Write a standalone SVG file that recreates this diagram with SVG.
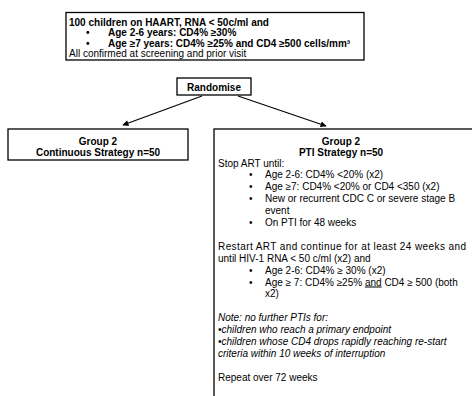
<svg xmlns="http://www.w3.org/2000/svg" width="472" height="396" viewBox="0 0 472 396">
<defs>
<style>
.box{fill:#fff;stroke:#000;stroke-width:1.3}
.t{font-family:"Liberation Sans",Arial,sans-serif;font-size:10px;fill:#000}
.b{font-weight:bold}
.c{text-anchor:middle}
.i{font-style:italic}
.conn{stroke:#000;stroke-width:1.2;fill:none;marker-end:url(#ah)}
</style>
<marker id="ah" viewBox="0 0 10 10" refX="9" refY="5" markerWidth="7" markerHeight="6" orient="auto" markerUnits="userSpaceOnUse">
<path d="M0,0 L10,5 L0,10 z" fill="#000"/>
</marker>
</defs>
<rect width="472" height="396" fill="#fff"/>
<g id="eligibility">
<rect class="box" x="66" y="12.5" width="298" height="47.5"/>
<text class="t b" x="69" y="25.5" font-size="9.8">100 children on HAART, RNA &lt; 50c/ml and</text>
<text class="t b" x="86" y="36" font-size="9.5">•</text>
<text class="t b" x="108" y="36" font-size="9.5">Age 2-6 years: CD4% ≥30%</text>
<text class="t b" x="86" y="46.5" font-size="9.5">•</text>
<text class="t b" x="108" y="46.5" font-size="9.5">Age ≥7 years: CD4% ≥25% and CD4 ≥500 cells/mm³</text>
<text class="t" x="69" y="56.5" font-size="9.5">All confirmed at screening and prior visit</text>
</g>
<g id="randomise">
<rect class="box" x="177" y="78" width="74" height="17"/>
<text class="t b c" x="214" y="90.5" font-size="10.5">Randomise</text>
</g>
<g id="connectors">
<line class="conn" x1="202" y1="96" x2="123" y2="125"/>
<line class="conn" x1="238" y1="96" x2="326" y2="126"/>
</g>
<g id="continuous">
<rect class="box" x="8" y="129" width="180" height="31"/>
<text class="t b c" x="98" y="145" font-size="9.5">Group 2</text>
<text class="t b c" x="98" y="156" font-size="9.5">Continuous Strategy n=50</text>
</g>
<g id="pti">
<rect class="box" x="214" y="129" width="270" height="280"/>
<text class="t b c" x="341" y="145" font-size="9.5">Group 2</text>
<text class="t b c" x="341" y="156" font-size="9.5">PTI Strategy n=50</text>
<text class="t" x="218" y="166.5">Stop ART until:</text>
<text class="t" x="249" y="178.4">•</text><text class="t" x="265" y="178.4">Age 2-6: CD4% &lt;20% (x2)</text>
<text class="t" x="249" y="190.3">•</text><text class="t" x="265" y="190.3">Age  ≥7: CD4% &lt;20% or CD4 &lt;350 (x2)</text>
<text class="t" x="249" y="202.2">•</text><text class="t" x="265" y="202.2">New or recurrent CDC C or severe stage B</text>
<text class="t" x="265" y="214.1">event</text>
<text class="t" x="249" y="226">•</text><text class="t" x="265" y="226">On PTI for 48 weeks</text>
<text class="t" x="218" y="249.8" textLength="248" lengthAdjust="spacing">Restart ART and continue for at least 24 weeks and</text>
<text class="t" x="218" y="261.7">until HIV-1 RNA &lt; 50 c/ml (x2) and</text>
<text class="t" x="249" y="273.6">•</text><text class="t" x="265" y="273.6">Age 2-6: CD4% ≥ 30% (x2)</text>
<text class="t" x="249" y="285.5">•</text><text class="t" x="265" y="285.5">Age ≥ 7: CD4% ≥25% <tspan text-decoration="underline">and</tspan> CD4 ≥ 500 (both</text>
<text class="t" x="265" y="297.4">x2)</text>
<text class="t i" x="218" y="321.2">Note: no further PTIs for:</text>
<text class="t i" x="218" y="333.1">•children who reach a primary endpoint</text>
<text class="t i" x="218" y="345">•children whose CD4 drops rapidly reaching re-start</text>
<text class="t i" x="218" y="356.9">criteria within 10 weeks of interruption</text>
<text class="t" x="218" y="380.7">Repeat over 72 weeks</text>
</g>
</svg>
